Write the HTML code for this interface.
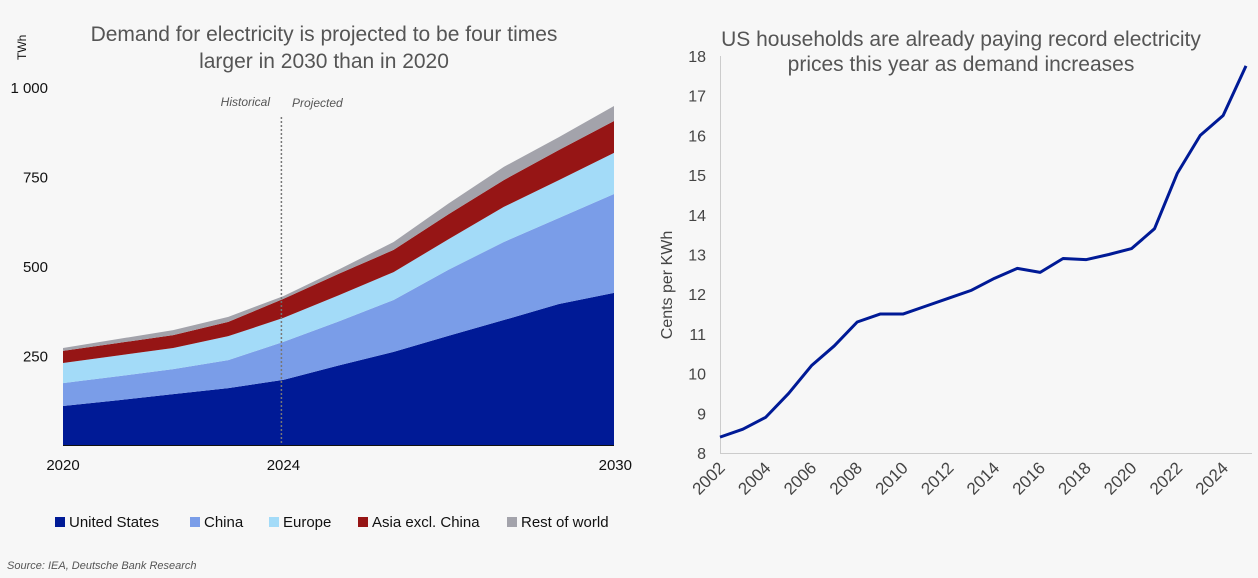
<!DOCTYPE html>
<html><head><meta charset="utf-8">
<style>
body{margin:0;background:#f7f7f7;font-family:"Liberation Sans",sans-serif;}
svg{display:block}
</style></head>
<body>
<svg width="1258" height="578" viewBox="0 0 1258 578">
<rect width="1258" height="578" fill="#f7f7f7"/>
<g id="left"></g>
<g id="right"></g>
</svg>
<script>
// Left chart data
const years = [2020,2021,2022,2023,2024,2025,2026,2027,2028,2029,2030];
const usVals = [109,125,142,159,182,222,260,305,349,394,425];
const chinaVals = [64,67,70,78,106,123,145,185,218,240,276];
const europeVals = [56,58,59,67,67,73,78,85,98,106,115];
const asiaVals = [34,35,36,40,53,60,62,70,75,84,89];
const rowVals = [8,11,14,14,8,12,22,30,37,36,42];
const seriesNames = ["United States","China","Europe","Asia excl. China","Rest of world"];
const seriesColors = ["#001a96","#7a9de8","#a3dbf8","#961515","#a3a3ab"];
const leftYTicks = [250,500,750,1000];
const leftYTickLabels = ["250","500","750","1 000"];
const leftXTicks = [2020,2024,2030];
// Right chart data
const priceYears = [2002,2003,2004,2005,2006,2007,2008,2009,2010,2011,2012,2013,2014,2015,2016,2017,2018,2019,2020,2021,2022,2023,2024,2025];
const priceVals = [8.4,8.6,8.9,9.5,10.2,10.7,11.3,11.5,11.5,11.7,11.9,12.1,12.4,12.65,12.55,12.9,12.87,13.0,13.15,13.65,15.05,16.0,16.5,17.75];
const rightYTicks = [8,9,10,11,12,13,14,15,16,17,18];
const rightXTicks = [2002,2004,2006,2008,2010,2012,2014,2016,2018,2020,2022,2024];

const NS="http://www.w3.org/2000/svg";
function mk(tag,attrs,parent,text){const e=document.createElementNS(NS,tag);for(const k in attrs)e.setAttribute(k,attrs[k]);if(text!==undefined)e.textContent=text;parent.appendChild(e);return e;}

// ---- Left chart
const L=document.getElementById('left');
const lx=y=>63+(y-2020)*(614-63)/10;
const ly=v=>445-v*0.358;
let t=mk('text',{x:324,y:41,'text-anchor':'middle','font-size':21,fill:'#555'},L,'Demand for electricity is projected to be four times');


t=mk('text',{x:324,y:68,'text-anchor':'middle','font-size':21,fill:'#555'},L,'larger in 2030 than in 2020');


t=mk('text',{x:0,y:0,'font-size':12,fill:'#111',transform:'translate(26,60) rotate(-90)'},L,'TWh');


const all=[usVals,chinaVals,europeVals,asiaVals,rowVals];
let base=years.map(()=>0);
all.forEach((vals,si)=>{
  const top=vals.map((v,i)=>base[i]+v);
  let d='M'+years.map((y,i)=>lx(y)+','+ly(top[i])).join(' L');
  for(let i=years.length-1;i>=0;i--) d+=' L'+lx(years[i])+','+ly(base[i]);
  d+='Z';
  const p=mk('path',{d:d,fill:seriesColors[si]},L);
  
  
  base=top;
});
leftYTicks.forEach((v,i)=>{
  const e=mk('text',{x:48,y:ly(v)+6,'text-anchor':'end','font-size':15,fill:'#111'},L,leftYTickLabels[i]);
  
  
});
let ax=mk('line',{x1:63,x2:614,y1:445.5,y2:445.5,stroke:'#111','stroke-width':1},L);


leftXTicks.forEach(y=>{
  const e=mk('text',{x:lx(y),y:470,'text-anchor':'middle','font-size':15,fill:'#111'},L,String(y));
  if(y===2030){e.setAttribute('text-anchor','end');e.setAttribute('x',lx(y)+18);}
  
  
});
let dv=mk('line',{x1:lx(2024)-2,x2:lx(2024)-2,y1:117,y2:445,stroke:'#777','stroke-width':1.5,'stroke-dasharray':'2,2'},L);


t=mk('text',{x:270,y:106,'text-anchor':'end','font-size':12,'font-style':'italic',fill:'#555'},L,'Historical');


t=mk('text',{x:292,y:107,'font-size':12,'font-style':'italic',fill:'#555'},L,'Projected');


const legX=[55,190,269,358,507];
seriesNames.forEach((n,i)=>{
  const g=mk('g',{},L);
  
  
  mk('rect',{x:legX[i],y:517,width:10,height:10,fill:seriesColors[i]},g);
  mk('text',{x:legX[i]+14,y:527,'font-size':15,fill:'#111'},g,n);
});
t=mk('text',{x:7,y:569,'font-size':11,'font-style':'italic',fill:'#555'},L,'Source: IEA, Deutsche Bank Research');



// ---- Right chart
const R=document.getElementById('right');
const rx=y=>720+(y-2002)*(1246-720)/23;
const ry=v=>453-(v-8)*(453-56)/10;
t=mk('text',{x:961,y:46,'text-anchor':'middle','font-size':21,fill:'#555'},R,'US households are already paying record electricity');


t=mk('text',{x:961,y:71,'text-anchor':'middle','font-size':21,fill:'#555'},R,'prices this year as demand increases');


ax=mk('line',{x1:720.5,x2:720.5,y1:56,y2:453,stroke:'#ccc','stroke-width':1},R);


ax=mk('line',{x1:720,x2:1252,y1:453.5,y2:453.5,stroke:'#ccc','stroke-width':1},R);


rightYTicks.forEach(v=>{
  const e=mk('text',{x:706,y:ry(v)+6,'text-anchor':'end','font-size':16,fill:'#444'},R,String(v));
  
  
});
rightXTicks.forEach(y=>{
  const e=mk('text',{x:0,y:0,'text-anchor':'end','font-size':17,fill:'#444',transform:'translate('+(rx(y)+6)+',469) rotate(-45)'},R,String(y));
  
  
});
t=mk('text',{x:0,y:0,'text-anchor':'middle','font-size':16,fill:'#444',transform:'translate(672,285) rotate(-90)'},R,'Cents per KWh');


const ln=mk('polyline',{points:priceYears.map((y,i)=>rx(y)+','+ry(priceVals[i])).join(' '),fill:'none',stroke:'#001a96','stroke-width':3,'stroke-linejoin':'round'},R);


</script>
</body></html>
